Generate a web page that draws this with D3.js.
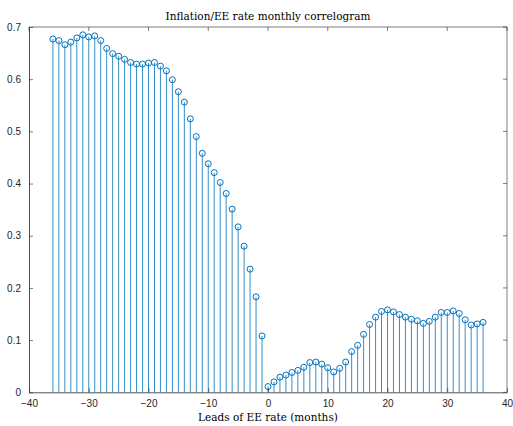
<!DOCTYPE html>
<html><head><meta charset="utf-8">
<script src="https://cdn.jsdelivr.net/npm/d3@7"></script>
<style>body{margin:0;background:#fff}svg{display:block}</style>
</head><body>
<script>
const leads = d3.range(-36, 37);
const corr = [
 0.677,0.674,0.666,0.671,0.679,0.685,0.681,0.683,0.674,0.659,
 0.649,0.644,0.638,0.632,0.629,0.629,0.631,0.632,0.625,0.616,
 0.599,0.576,0.556,0.524,0.490,0.458,0.438,0.421,0.402,0.381,
 0.351,0.317,0.280,0.236,0.183,0.108,
 0.011,0.020,0.029,0.033,0.038,0.042,0.048,0.057,0.058,0.054,
 0.047,0.039,0.046,0.058,0.078,0.090,0.111,0.130,0.144,0.155,
 0.158,0.154,0.149,0.144,0.140,0.137,0.132,0.136,0.144,0.153,
 0.153,0.156,0.151,0.139,0.129,0.131,0.134
];
const xTicks = [-40,-30,-20,-10,0,10,20,30,40];
const yTicks = [0,0.1,0.2,0.3,0.4,0.5,0.6,0.7];
const title = "Inflation/EE rate monthly correlogram";
const xLabel = "Leads of EE rate (months)";

const W=513,H=426, L=29, R=507, T=27, B=392.3;
const svg=d3.select("body").append("svg").attr("width",W).attr("height",H);
const x=d3.scaleLinear().domain([-40,40]).range([L,R]);
const y=d3.scaleLinear().domain([0,0.7]).range([B,T]);
const data=leads.map((d,i)=>({x:d,y:corr[i]}));
const col="#0072BD";

const g=svg.append("g");
g.selectAll("line.stem").data(data).enter().append("line")
 .attr("x1",d=>x(d.x)).attr("x2",d=>x(d.x))
 .attr("y1",y(0)).attr("y2",d=>y(d.y))
 .attr("stroke",col).attr("stroke-width",0.8);
g.selectAll("circle").data(data).enter().append("circle")
 .attr("cx",d=>x(d.x)).attr("cy",d=>y(d.y)).attr("r",3)
 .attr("fill","none").attr("stroke",col).attr("stroke-width",1);

const axCol="#262626", tl=4;
const font="'Liberation Sans', Arial, Helvetica, sans-serif";
// box
svg.append("line").attr("x1",L).attr("x2",R).attr("y1",T).attr("y2",T).attr("stroke",axCol).attr("stroke-width",0.6);
svg.append("line").attr("x1",R).attr("x2",R).attr("y1",T).attr("y2",B).attr("stroke",axCol).attr("stroke-width",0.6);
const xa=svg.append("g").attr("transform",`translate(0,${B})`)
 .call(d3.axisBottom(x).tickValues(xTicks).tickSizeInner(-tl).tickSizeOuter(0).tickPadding(8));
const ya=svg.append("g").attr("transform",`translate(${L},0)`)
 .call(d3.axisLeft(y).tickValues(yTicks).tickSizeInner(-tl).tickSizeOuter(0).tickPadding(8).tickFormat(d3.format("")));
[xa,ya].forEach(a=>{
 a.select(".domain").attr("stroke",axCol).attr("stroke-width",0.8);
 a.selectAll(".tick line").attr("stroke",axCol).attr("stroke-width",0.6);
 a.selectAll(".tick text").attr("fill",axCol).style("font-family",font).style("font-size","10px");
});
// top & right ticks
svg.append("g").selectAll("line").data(xTicks).enter().append("line")
 .attr("x1",d=>x(d)).attr("x2",d=>x(d)).attr("y1",T).attr("y2",T+tl).attr("stroke",axCol).attr("stroke-width",0.6);
svg.append("g").selectAll("line").data(yTicks).enter().append("line")
 .attr("x1",R).attr("x2",R-tl).attr("y1",d=>y(d)).attr("y2",d=>y(d)).attr("stroke",axCol).attr("stroke-width",0.6);

const serif="'DejaVu Serif','Liberation Serif',serif";
svg.append("text").attr("x",(L+R)/2).attr("y",20).attr("text-anchor","middle")
 .style("font-family",serif).style("font-size","10.5px").attr("fill","#000").text(title);
svg.append("text").attr("x",(L+R)/2).attr("y",421).attr("text-anchor","middle")
 .style("font-family",serif).style("font-size","10.5px").attr("fill","#000").text(xLabel);
</script>
</body></html>
